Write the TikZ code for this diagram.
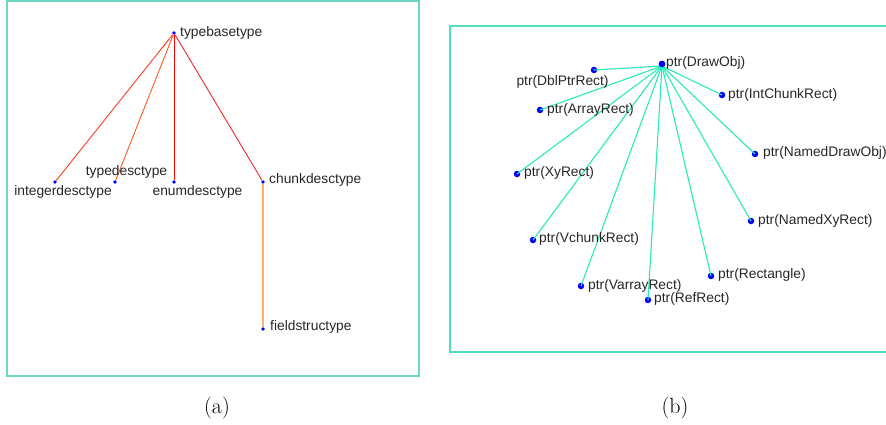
\documentclass[tikz,border=0pt]{standalone}
\usepackage{fontspec}
\newfontfamily\labfont{Liberation Sans}
\definecolor{boxa}{RGB}{110,215,195}
\definecolor{boxb}{RGB}{80,220,190}
\definecolor{edgeb}{RGB}{40,235,185}
\definecolor{ered}{RGB}{255,0,0}
\definecolor{eredor}{RGB}{255,60,30}
\definecolor{eor}{RGB}{255,90,30}
\definecolor{ech}{RGB}{240,40,40}
\definecolor{efs}{RGB}{255,176,112}
\tikzset{
  dota/.style={circle,fill=blue,inner sep=0pt,minimum size=3.6pt},
  dotb/.style={circle,fill=blue,inner sep=0pt,minimum size=6.5pt},
  lab/.style={inner sep=0pt,text=black!85,font=\labfont\fontsize{13.8}{16}\selectfont},
  labr/.style={lab,anchor=west},
  captext/.style={inner sep=0pt,font=\fontsize{22}{26}\selectfont},
  framebox/.style={line width=1.6pt},
  ea/.style={line width=0.9pt},
  eb/.style={edgeb,line width=1.1pt}
}
\begin{document}
\begin{tikzpicture}[x=1pt,y=-1pt]
\useasboundingbox (0,0) rectangle (886,425);
% panel (a)
\draw[framebox,boxa] (7,1) rectangle (419,376);
\node[dota] (tb) at (174,33) {};
\node[dota] (int) at (55,182) {};
\node[dota] (td) at (115,182) {};
\node[dota] (en) at (174,182) {};
\node[dota] (ch) at (263,182) {};
\node[dota] (fs) at (263,329) {};
\draw[ea,eredor] (tb) -- (int);
\draw[ea,eor] (tb) -- (td);
\draw[ea,ered] (tb) -- (en);
\draw[ea,ech] (tb) -- (ch);
\draw[efs,line width=1.6pt] (ch) -- (fs);
\node[labr] (ltb) at (180,33) {typebasetype};
\node[lab] (lint) at (63,192) {integerdesctype};
\node[lab] (ltd) at (126.5,172) {typedesctype};
\node[lab] (len) at (197.5,192) {enumdesctype};
\node[labr] (lch) at (269,180) {chunkdesctype};
\node[labr] (lfs) at (270,327) {fieldstructype};
% panel (b)
\draw[framebox,boxb] (450,26) rectangle (900,352);
\node[dotb] (dro) at (662,64) {};
\node[dotb] (dbl) at (594,70) {};
\node[dotb] (arr) at (540,110) {};
\node[dotb] (ich) at (722,95) {};
\node[dotb] (xy) at (517,174) {};
\node[dotb] (ndo) at (755,154) {};
\node[dotb] (vch) at (533,240) {};
\node[dotb] (var) at (581,286) {};
\node[dotb] (ref) at (648,300) {};
\node[dotb] (rec) at (711,276) {};
\node[dotb] (nxy) at (751,221) {};
\coordinate (hub) at (662,66);
\foreach \t in {dbl,arr,ich,xy,ndo,vch,var,ref,rec,nxy}
  \draw[eb] (hub) -- (\t.center);
\node[dotb] at (dro) {};
\node[labr] (ldro) at (666,63) {ptr(DrawObj)};
\node[lab] (ldbl) at (562.5,82) {ptr(DblPtrRect)};
\node[labr] (larr) at (547,110) {ptr(ArrayRect)};
\node[labr] (lich) at (728,95) {ptr(IntChunkRect)};
\node[labr] (lxy) at (524,173) {ptr(XyRect)};
\node[labr] (lndo) at (763,153) {ptr(NamedDrawObj)};
\node[labr] (lvch) at (539,239) {ptr(VchunkRect)};
\node[labr] (lvar) at (588,286) {ptr(VarrayRect)};
\node[labr] (lref) at (654,299) {ptr(RefRect)};
\node[labr] (lrec) at (718,275) {ptr(Rectangle)};
\node[labr] (lnxy) at (758,221) {ptr(NamedXyRect)};
% captions
\node[captext] (capa) at (217,408) {(a)};
\node[captext] (capb) at (675,408) {(b)};
\end{tikzpicture}
\end{document}
